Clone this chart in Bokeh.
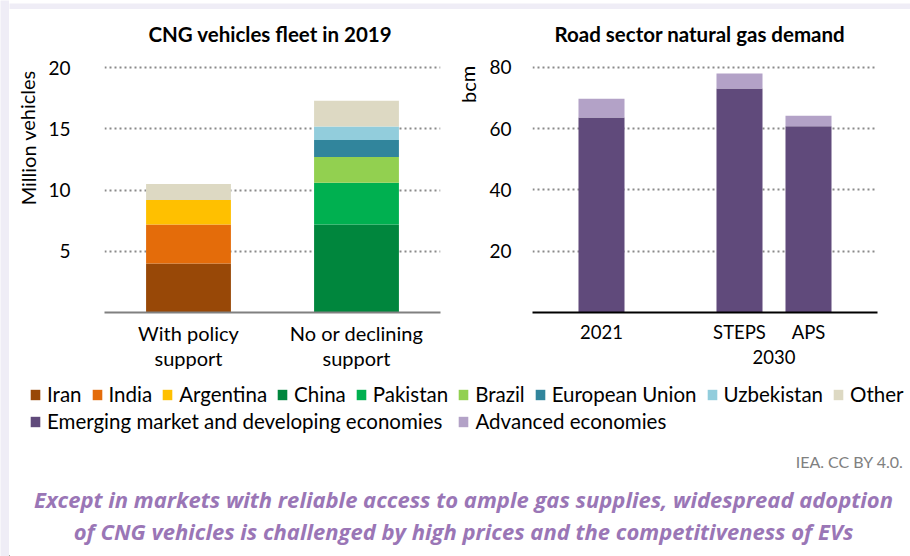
import re
from bokeh.plotting import figure
from bokeh.models import (ColumnDataSource, FactorRange, Range1d, Label, Legend,
                          LegendItem, FixedTicker)
from bokeh.layouts import column, row
from bokeh.embed import file_html
from bokeh.resources import INLINE

# ---------------- data ----------------
fleet_categories = ["With policy\nsupport", "No or declining\nsupport"]
fleet_series = ["Iran", "India", "Argentina", "China", "Pakistan", "Brazil",
                "European Union", "Uzbekistan", "Other"]
iran = [4.0, 0.0]
india = [3.2, 0.0]
argentina = [2.0, 0.0]
china = [0.0, 7.2]
pakistan = [0.0, 3.4]
brazil = [0.0, 2.1]
european_union = [0.0, 1.4]
uzbekistan = [0.0, 1.1]
other = [1.3, 2.1]
fleet_ticks = [5, 10, 15, 20]

demand_groups = [" ", "2030", "2030"]
demand_scenarios = ["2021", "STEPS", "APS"]
demand_series = ["Emerging market and developing economies", "Advanced economies"]
emde = [63.7, 73.1, 60.8]
advanced = [6.1, 4.9, 3.4]
demand_ticks = [20, 40, 60, 80]

fleet_colors = ["#984807", "#E46C0A", "#FFC000", "#00863D", "#00B050",
                "#92D050", "#31859C", "#92CDDC", "#DDD9C3"]
demand_colors = ["#604A7B", "#B3A2C7"]

FONT = "Lato"
LAVENDER = "#EFEDF6"
CH_H = 370


def blank(w, h, color):
    f = figure(width=w, height=h, x_range=Range1d(0, 1), y_range=Range1d(0, 1),
               output_backend="svg", toolbar_location=None, min_border=0)
    f.axis.visible = False
    f.grid.visible = False
    f.outline_line_color = None
    f.background_fill_color = color
    f.border_fill_color = color
    return f


def side_label(w, h, text, cx, cy_from_top):
    f = figure(width=w, height=h, x_range=Range1d(0, w), y_range=Range1d(0, h),
               output_backend="svg", toolbar_location=None, min_border=0)
    f.axis.visible = False
    f.grid.visible = False
    f.outline_line_color = None
    f.background_fill_color = "white"
    f.border_fill_color = "white"
    f.add_layout(Label(x=cx, y=h - cy_from_top, text=text, angle=1.5708,
                       text_align="center", text_baseline="middle",
                       text_font=FONT, text_font_size="20px", text_color="black"))
    return f


def style_chart(p, ticks, title_offset, ylabel_standoff):
    p.outline_line_color = None
    p.background_fill_color = "white"
    p.border_fill_color = "white"
    p.xgrid.grid_line_color = None
    p.ygrid.ticker = FixedTicker(ticks=ticks)
    p.ygrid.grid_line_color = "#8A8A8A"
    p.ygrid.grid_line_width = 2
    p.ygrid.grid_line_dash = "2 3"
    p.yaxis.ticker = FixedTicker(ticks=ticks)
    p.yaxis.axis_line_color = None
    p.yaxis.major_tick_line_color = None
    p.yaxis.major_tick_out = 0
    p.yaxis.minor_tick_line_color = None
    p.yaxis.minor_tick_out = 0
    p.yaxis.major_label_standoff = ylabel_standoff
    p.yaxis.major_label_text_font = FONT
    p.yaxis.major_label_text_font_size = "19px"
    p.yaxis.major_label_text_color = "black"
    p.xaxis.major_tick_line_color = None
    p.xaxis.minor_tick_line_color = None
    p.xaxis.minor_tick_out = 0
    p.xaxis.major_label_text_font = FONT
    p.xaxis.major_label_text_color = "black"
    p.title.align = "left"
    p.title.vertical_align = "middle"
    p.title.offset = title_offset
    p.title.standoff = 18
    p.title.text_font = FONT
    p.title.text_font_size = "20.5px"
    p.title.text_font_style = "bold"
    p.title.text_color = "black"


# ---------------- left chart ----------------
fleet_src = ColumnDataSource(dict(
    cat=fleet_categories, Iran=iran, India=india, Argentina=argentina,
    China=china, Pakistan=pakistan, Brazil=brazil,
    **{"European Union": european_union}, Uzbekistan=uzbekistan, Other=other))

pl = figure(width=406, height=CH_H,
            x_range=FactorRange(factors=fleet_categories, range_padding=0),
            y_range=Range1d(0, 21.0),
            output_backend="svg", toolbar_location=None,
            min_border_left=60, min_border_right=10,
            min_border_top=43, min_border_bottom=69,
            title="CNG vehicles fleet in 2019")
fleet_renderers = pl.vbar_stack(fleet_series, x="cat", width=0.505,
                                color=fleet_colors, line_color=None,
                                source=fleet_src)
style_chart(pl, fleet_ticks, 44, 34)
pl.xaxis.axis_line_color = "#808080"
pl.xaxis.axis_line_width = 2
pl.xaxis.major_tick_out = 0
pl.xaxis.major_label_standoff = 8
pl.xaxis.major_label_text_font_size = "20px"
pl.xaxis.major_label_text_line_height = 1.05

# ---------------- right chart ----------------
demand_x = list(zip(demand_groups, demand_scenarios))
demand_src = ColumnDataSource(dict(x=demand_x, **{demand_series[0]: emde,
                                                 demand_series[1]: advanced}))
pr = figure(width=425, height=CH_H,
            x_range=FactorRange(factors=demand_x, group_padding=1.0,
                                factor_padding=0.0, range_padding=0.5,
                                range_padding_units="absolute"),
            y_range=Range1d(0, 83.9),
            output_backend="svg", toolbar_location=None,
            min_border_left=47, min_border_right=33,
            min_border_top=43, min_border_bottom=69,
            title="Road sector natural gas demand")
demand_renderers = pr.vbar_stack(demand_series, x="x", width=0.667,
                                 color=demand_colors, line_color=None,
                                 source=demand_src)
style_chart(pr, demand_ticks, 22, 21)
pr.xaxis.axis_line_color = "black"
pr.xaxis.axis_line_width = 2
pr.xaxis.major_tick_out = 8
pr.xaxis.major_label_standoff = 0
pr.xaxis.major_label_text_font_size = "18.5px"
pr.xaxis.group_text_font = FONT
pr.xaxis.group_text_font_size = "18.5px"
pr.xaxis.group_text_font_style = "normal"
pr.xaxis.group_text_color = "black"
pr.xaxis.separator_line_color = None

ylab_left = side_label(35, CH_H, "Million vehicles", 18, 118.5)
ylab_right = side_label(35, CH_H, "bcm", 17, 41.5)

# ---------------- bottom: legend and texts ----------------
PB_W, PB_H = 901, 175
pb = figure(width=PB_W, height=PB_H, x_range=Range1d(0, PB_W), y_range=Range1d(0, PB_H),
            output_backend="svg", toolbar_location=None, min_border=0)
pb.axis.visible = False
pb.grid.visible = False
pb.outline_line_color = None
pb.background_fill_color = "white"
pb.border_fill_color = "white"


def legend_row(names, colors, loc, spacing):
    items = []
    for n, c in zip(names, colors):
        # swatch-only renderer, kept outside the visible range
        r = pb.vbar(x=[-100], top=[1], width=1, fill_color=c, line_color=None)
        items.append(LegendItem(label=n, renderers=[r]))
    lg = Legend(items=items, orientation="horizontal", location=loc,
                padding=0, margin=0, spacing=spacing, label_standoff=6,
                glyph_width=12, glyph_height=13,
                border_line_color=None, background_fill_alpha=0,
                label_text_font=FONT, label_text_font_size="20.5px",
                label_text_color="black")
    pb.add_layout(lg, "center")


legend_row(fleet_series, fleet_colors, (20, 150), 9)
legend_row(demand_series, demand_colors, (20, 123), 15)

pb.add_layout(Label(x=894, y=95, text="IEA. CC BY 4.0.", text_align="right",
                    text_baseline="middle", text_font=FONT, text_font_size="16px",
                    text_color="#808080"))
sub_lines = ["Except in markets with reliable access to ample gas supplies, widespread adoption",
             "of CNG vehicles is challenged by high prices and the competitiveness of EVs"]
for yy, t in zip([58, 26], sub_lines):
    pb.add_layout(Label(x=454, y=yy, text=t, text_align="center", text_baseline="middle",
                        text_font="Open Sans", text_font_size="22px",
                        text_font_style="bold italic", text_color="#9A76B6"))

content = column(blank(901, 9, LAVENDER), blank(901, 2, "#808080"),
                 row(ylab_left, pl, ylab_right, pr), pb)
layout = row(blank(9, 556, LAVENDER), content)

html = file_html(layout, INLINE)
html = re.sub(r"<body([^>]*)>",
              '<body style="margin:0; background:%s;">' % LAVENDER,
              html, count=1)
open("out.html", "w").write(html)
